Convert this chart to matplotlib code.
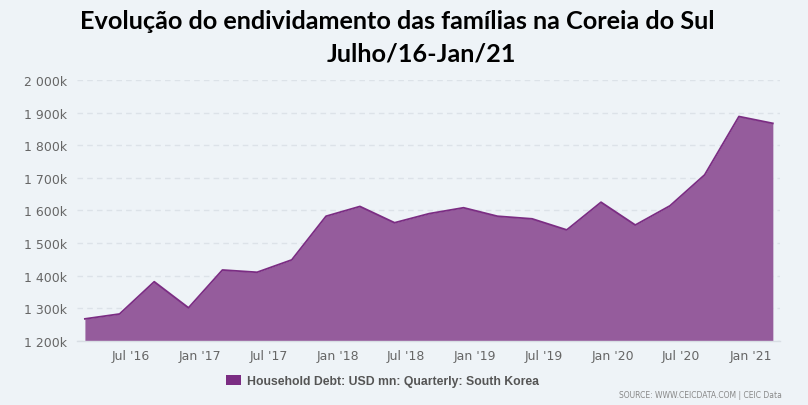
import matplotlib
matplotlib.use("Agg")
import matplotlib.pyplot as plt
import matplotlib.dates as mdates
from matplotlib.ticker import FuncFormatter, MultipleLocator
import pandas as pd

# quarterly points, plotted on the first day of the quarter's last month
quarters = pd.date_range(start="2016-03-01", end="2021-03-01", freq="3MS")
debt_usd_mn = [
    1267000, 1282000, 1381000, 1301000, 1417000, 1410000, 1448000,
    1582000, 1612000, 1562000, 1590000, 1608000, 1582000, 1574000,
    1540000, 1625000, 1555000, 1614000, 1709000, 1888000, 1867000,
]
series_label = "Household Debt: USD mn: Quarterly: South Korea"
title_line1 = "Evolução do endividamento das famílias na Coreia do Sul"
title_line2 = "Julho/16-Jan/21"
source_text = "SOURCE: WWW.CEICDATA.COM | CEIC Data"

bg = "#eef3f7"
fill_col = "#955c9c"
line_col = "#7b2d83"
label_col = "#666666"

fig = plt.figure(figsize=(8.08, 4.06), dpi=100, facecolor=bg)
ax = fig.add_axes([77 / 808, 1 - 341.7 / 406, 703 / 808, 260.7 / 406], facecolor=bg)

ax.fill_between(quarters, debt_usd_mn, 1200000, color=fill_col, linewidth=0, label=series_label)
ax.plot(quarters, debt_usd_mn, color=line_col, linewidth=1.3)

ax.set_xlim(pd.Timestamp("2016-02-09"), pd.Timestamp("2021-03-20"))
ax.set_ylim(1200000, 2000000)

ax.yaxis.set_major_locator(MultipleLocator(100000))
ax.yaxis.set_major_formatter(
    FuncFormatter(lambda v, p: f"{int(round(v / 1000)):,}".replace(",", " ") + "k")
)
ax.xaxis.set_major_locator(mdates.MonthLocator(bymonth=[1, 7]))
ax.xaxis.set_major_formatter(mdates.DateFormatter("%b '%y"))

ax.grid(axis="y", linestyle=(0, (4, 3)), color="#dce2e8", linewidth=1)
ax.set_axisbelow(True)
for side in ["top", "right", "left"]:
    ax.spines[side].set_visible(False)
ax.spines["bottom"].set_color("#d8dee4")
ax.spines["bottom"].set_linewidth(1)
ax.tick_params(axis="both", length=0, labelsize=9, labelcolor=label_col)
ax.tick_params(axis="y", pad=7)
ax.tick_params(axis="x", pad=6)

fig.text(397.5 / 808, 1 - 29 / 406, title_line1, ha="center", va="baseline",
         fontsize=18.2, fontweight="bold", family="Lato", color="black")
fig.text(421 / 808, 1 - 62 / 406, title_line2, ha="center", va="baseline",
         fontsize=18.2, fontweight="bold", family="Lato", color="black")

leg = fig.legend(loc="center", bbox_to_anchor=(382.5 / 808, 1 - 382 / 406), frameon=False,
                 handlelength=1.2, handleheight=0.9, handletextpad=0.5,
                 prop={"family": "Liberation Sans", "weight": "bold", "size": 8.8})
for t in leg.get_texts():
    t.set_color("#555555")
leg.legend_handles[0].set_color(line_col)

fig.text(782 / 808, 1 - 396 / 406, source_text, ha="right", va="center",
         fontsize=5.5, color="#888888")

fig.savefig("out.png", dpi=100, facecolor=bg)
